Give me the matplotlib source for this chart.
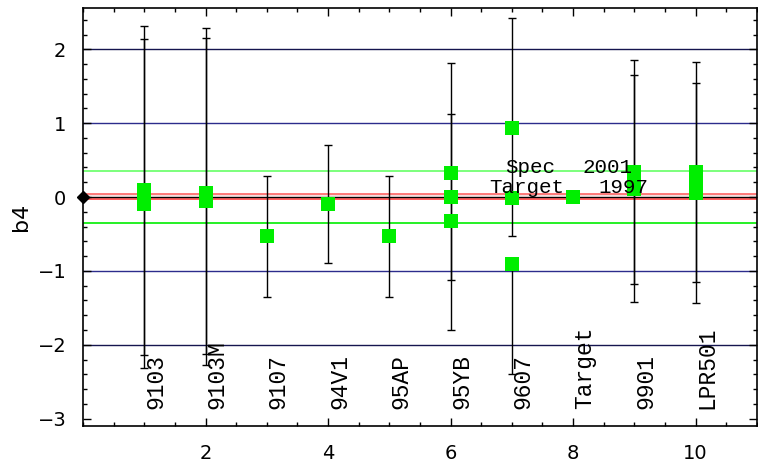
import matplotlib
matplotlib.use("Agg")
import matplotlib.pyplot as plt
from matplotlib.ticker import MultipleLocator, FixedLocator

# ---- data ----
categories = ['9103', '9103M', '9107', '94V1', '95AP', '95YB', '9607', 'Target', '9901', 'LPR501']
cat_x = [1, 2, 3, 4, 5, 6, 7, 8, 9, 10]

pt_x = [1, 1, 2, 2, 3, 4, 5, 6, 6, 6, 7, 7, 7, 8, 9, 9, 9, 10, 10, 10]
pt_y = [0.09, -0.09, 0.06, -0.05, -0.53, -0.09, -0.53, 0.33, 0.0, -0.33,
        0.93, -0.01, -0.91, 0.0, 0.34, 0.22, 0.11, 0.34, 0.20, 0.06]
err_lo = [2.23, 2.23, 2.18, 2.22, 0.82, 0.81, 0.83, 1.46, 0.0, 1.47,
          1.46, 0.0, 1.49, 0.0, 1.52, 0.0, 1.53, 1.49, 0.0, 1.49]
err_hi = [2.23, 2.23, 2.23, 2.20, 0.82, 0.80, 0.82, 1.49, 0.0, 1.46,
          1.49, 0.0, 0.0, 0.0, 1.52, 0.0, 1.54, 1.49, 0.0, 1.49]

x_ticks = [2, 4, 6, 8, 10]

limit2 = 2.0
limit1 = 1.0
green_lim = 0.35
red_hi = 0.045
red_lo = -0.025

spec_label = ['Spec', '2001']
target_label = ['Target', '1997']

# ---- figure ----
fig = plt.figure(figsize=(7.58, 4.65), dpi=100)
ax = fig.add_axes([0.1095, 0.0839, 0.889, 0.899])
ax.set_xlim(0, 11)
ax.set_ylim(-3.1, 2.56)

for v in (limit2, -limit2):
    ax.axhline(v, color='#15154f', lw=1.0, zorder=1)
for v in (limit1, -limit1):
    ax.axhline(v, color='#2c2c8c', lw=1.0, zorder=1)
ax.axhline(green_lim, color='#66ff66', lw=1.2, zorder=1)
ax.axhline(-green_lim, color='#00ee00', lw=1.2, zorder=1)
ax.axhspan(red_lo, red_hi, color='#f3dede', zorder=0.5, lw=0)
ax.axhline(red_hi, color='#ff7070', lw=1.3, zorder=1)
ax.axhline(red_lo, color='#ff5050', lw=1.3, zorder=1)
ax.axhline(0, color='black', lw=0.9, zorder=1)

ax.errorbar(pt_x, pt_y, yerr=[err_lo, err_hi], fmt='none', ecolor='black',
            elinewidth=1.0, capsize=3, capthick=1.0, zorder=2)
ax.plot(pt_x, pt_y, 's', color='#00ee00', markersize=9.5, markeredgewidth=0, zorder=3)

ax.plot([0], [0], 'D', color='black', markersize=6, clip_on=False, zorder=5)

mono = 'Liberation Mono'
for xc, lab in zip(cat_x, categories):
    ax.text(xc, -2.87, lab, rotation=90, ha='left', va='bottom',
            family=mono, fontsize=16.5, zorder=4)

ax.text(6.89, 0.33, spec_label[0], family=mono, fontsize=15, ha='left', va='baseline', zorder=4)
ax.text(8.15, 0.33, spec_label[1], family=mono, fontsize=15, ha='left', va='baseline', zorder=4)
ax.text(6.63, 0.05, target_label[0], family=mono, fontsize=15, ha='left', va='baseline', zorder=4)
ax.text(8.41, 0.05, target_label[1], family=mono, fontsize=15, ha='left', va='baseline', zorder=4)

ax.xaxis.set_major_locator(FixedLocator(x_ticks))
ax.xaxis.set_minor_locator(MultipleLocator(0.5))
ax.yaxis.set_major_locator(MultipleLocator(1))
ax.yaxis.set_minor_locator(MultipleLocator(0.2))
ax.tick_params(which='both', direction='in', top=True, right=True, width=1.0)
ax.tick_params(which='major', length=6, labelsize=14, pad=12)
ax.tick_params(which='minor', length=3)
ax.tick_params(axis='x', which='major', pad=13)

for s in ax.spines.values():
    s.set_linewidth(1.2)

ax.set_ylabel('b4', fontsize=16, labelpad=5)

fig.savefig('out.png', dpi=100)
